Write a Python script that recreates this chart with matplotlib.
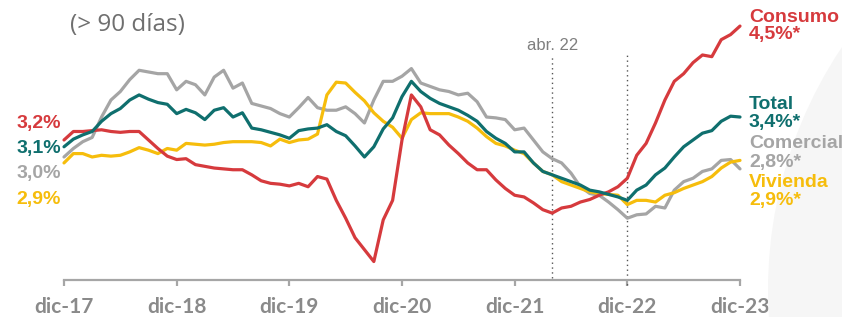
import matplotlib
matplotlib.use("Agg")
import matplotlib.pyplot as plt
from matplotlib.patches import Ellipse

# ---------------- data (monthly, dic-17 .. dic-23) ----------------
months = list(range(73))
tick_pos = [0, 12, 24, 36, 48, 60, 72]
tick_labels = ["dic-17", "dic-18", "dic-19", "dic-20", "dic-21", "dic-22", "dic-23"]
vline_pos = [52, 60]
vline_label = "abr. 22"

consumo = [3.20, 3.30, 3.30, 3.31, 3.32, 3.30, 3.29, 3.30, 3.30, 3.20,
           3.10, 3.01, 2.97, 2.98, 2.91, 2.89, 2.87, 2.86, 2.85, 2.85,
           2.79, 2.72, 2.69, 2.68, 2.66, 2.69, 2.65, 2.77, 2.74, 2.49,
           2.28, 2.05, 1.91, 1.77, 2.26, 2.49, 3.20, 3.73, 3.59, 3.32,
           3.26, 3.14, 3.04, 2.93, 2.85, 2.85, 2.73, 2.63, 2.55, 2.53,
           2.46, 2.38, 2.34, 2.40, 2.42, 2.47, 2.50, 2.55, 2.59, 2.65,
           2.75, 3.02, 3.16, 3.40, 3.67, 3.89, 3.98, 4.11, 4.20, 4.18,
           4.38, 4.44, 4.54]
total = [3.12, 3.21, 3.26, 3.30, 3.42, 3.51, 3.57, 3.67, 3.73, 3.68,
         3.64, 3.62, 3.51, 3.56, 3.52, 3.44, 3.55, 3.58, 3.47, 3.52,
         3.34, 3.32, 3.29, 3.26, 3.22, 3.31, 3.33, 3.34, 3.38, 3.30,
         3.25, 3.13, 3.00, 3.12, 3.33, 3.46, 3.71, 3.89, 3.77, 3.69,
         3.63, 3.59, 3.55, 3.49, 3.42, 3.30, 3.22, 3.16, 3.06, 3.06,
         2.93, 2.83, 2.79, 2.75, 2.71, 2.67, 2.61, 2.59, 2.56, 2.53,
         2.49, 2.61, 2.67, 2.79, 2.87, 3.00, 3.12, 3.20, 3.28, 3.31,
         3.42, 3.48, 3.47]
comercial = [3.00, 3.10, 3.18, 3.23, 3.47, 3.67, 3.77, 3.91, 4.02, 4.00,
             3.98, 3.98, 3.79, 3.89, 3.85, 3.73, 3.94, 4.02, 3.81, 3.87,
             3.63, 3.60, 3.57, 3.51, 3.47, 3.58, 3.70, 3.58, 3.55, 3.55,
             3.59, 3.51, 3.40, 3.67, 3.89, 3.89, 3.95, 4.04, 3.87, 3.83,
             3.79, 3.77, 3.73, 3.75, 3.65, 3.47, 3.46, 3.44, 3.32, 3.34,
             3.20, 3.06, 2.98, 2.93, 2.81, 2.65, 2.57, 2.55, 2.47, 2.38,
             2.28, 2.32, 2.33, 2.42, 2.40, 2.61, 2.71, 2.75, 2.83, 2.86,
             2.96, 2.97, 2.86]
vivienda = [2.93, 3.04, 3.04, 3.00, 3.02, 3.01, 3.02, 3.06, 3.11, 3.08,
            3.04, 3.10, 3.08, 3.16, 3.15, 3.14, 3.15, 3.17, 3.18, 3.18,
            3.18, 3.17, 3.13, 3.21, 3.17, 3.20, 3.21, 3.27, 3.73, 3.88,
            3.87, 3.76, 3.66, 3.52, 3.42, 3.35, 3.22, 3.44, 3.52, 3.51,
            3.51, 3.51, 3.47, 3.42, 3.34, 3.24, 3.16, 3.13, 3.08, 3.04,
            2.93, 2.83, 2.79, 2.71, 2.67, 2.63, 2.59, 2.57, 2.56, 2.55,
            2.44, 2.49, 2.49, 2.47, 2.55, 2.58, 2.63, 2.67, 2.71, 2.77,
            2.87, 2.94, 2.96]

start_labels = ["3,2%", "3,1%", "3,0%", "2,9%"]
end_names = ["Consumo", "Total", "Comercial", "Vivienda"]
end_values = ["4,5%*", "3,4%*", "2,8%*", "2,9%*"]
title = "(> 90 días)"

# ---------------- styling ----------------
RED = "#d63a3d"
TEAL = "#0f6f6e"
GRAY = "#a5a5a5"
YELLOW = "#f6bd0c"
AXIS = "#a6a6a6"

W, H = 842, 317
fig = plt.figure(figsize=(W / 100, H / 100), dpi=100)

# decorative light background circle on the right
bg = Ellipse((1204 / W, 1 - 290 / H), 2 * 436 / W, 2 * 436 / H,
             transform=fig.transFigure, facecolor="#f6f6f6",
             edgecolor="none", zorder=0)
fig.patches.append(bg)

def px(x, y):
    return x / W, 1 - y / H

ax_left, ax_right, ax_top, ax_bot = 64, 740, 10, 280
ax = fig.add_axes([ax_left / W, 1 - ax_bot / H, (ax_right - ax_left) / W,
                   (ax_bot - ax_top) / H])
ax.patch.set_alpha(0)
ax.set_xlim(0, 72)
ax.set_ylim(1.553, 4.729)

lw = 2.3
for series, col, z in [(comercial, GRAY, 3), (vivienda, YELLOW, 4),
                       (consumo, RED, 5), (total, TEAL, 6)]:
    ax.plot(months, series, color=col, lw=lw, clip_on=False, zorder=z,
            solid_joinstyle="round", solid_capstyle="round")

# vertical dotted lines
ax.axvline(vline_pos[0], ymin=0.007, ymax=0.833, color="#555555", lw=1.0,
           ls=(0, (1, 2.5)), clip_on=False, zorder=2)
ax.axvline(vline_pos[1], ymin=-0.02, ymax=0.833, color="#555555", lw=1.0,
           ls=(0, (1, 2.5)), clip_on=False, zorder=2)
ax.text(vline_pos[0], 1.553 + (280 - 50) / 85.0, vline_label, ha="center",
        va="baseline", fontsize=12, color="#7f7f7f",
        family=["Liberation Sans", "DejaVu Sans"])

for s in ["left", "right", "top"]:
    ax.spines[s].set_visible(False)
ax.spines["bottom"].set_color(AXIS)
ax.spines["bottom"].set_linewidth(1.6)
ax.set_yticks([])
ax.set_xticks(tick_pos)
ax.set_xticklabels(tick_labels)
ax.tick_params(axis="x", direction="out", length=4.5, width=1.6, color=AXIS,
               pad=8, labelsize=15, labelcolor="#8a8a8a")
for lab in ax.get_xticklabels():
    lab.set_family(["Lato", "DejaVu Sans"])
    lab.set_fontweight("bold")

# title
fig.text(*px(70, 31), title, fontsize=17.5, color="#6f6f6f",
         family=["Open Sans", "DejaVu Sans"], ha="left", va="baseline")

lab_font = dict(family=["Liberation Sans", "DejaVu Sans"], fontweight="bold",
                fontsize=14, va="baseline")
colors = [RED, TEAL, GRAY, YELLOW]

# left labels
for lbl, yb, c in zip(start_labels, [128, 153, 178, 204], colors):
    fig.text(*px(61, yb), lbl, color=c, ha="right", **lab_font)

# right labels
name_base = [22, 109, 148, 187]
val_base = [39, 127, 167, 205]
for nm, vl, yn, yv, c in zip(end_names, end_values, name_base, val_base, colors):
    fig.text(*px(749, yn), nm, color=c, ha="left", **lab_font)
    fig.text(*px(749, yv), vl, color=c, ha="left", **lab_font)

fig.savefig("out.png", dpi=100, facecolor="white")
